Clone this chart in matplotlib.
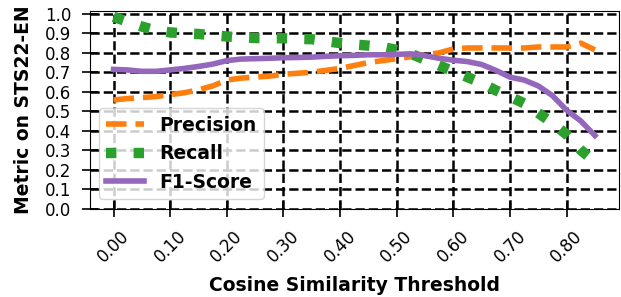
import matplotlib
matplotlib.use("Agg")
import matplotlib.pyplot as plt
import numpy as np

thresholds = [0.0, 0.025, 0.05, 0.075, 0.1, 0.125, 0.15, 0.175, 0.2, 0.225,
              0.25, 0.275, 0.3, 0.325, 0.35, 0.375, 0.4, 0.425, 0.45, 0.475,
              0.5, 0.525, 0.55, 0.575, 0.6, 0.625, 0.65, 0.675, 0.7, 0.725,
              0.75, 0.775, 0.8, 0.825, 0.85]

precision = [0.558, 0.565, 0.57, 0.575, 0.585, 0.595, 0.61, 0.63, 0.66, 0.67,
             0.675, 0.68, 0.69, 0.695, 0.70, 0.71, 0.72, 0.735, 0.75, 0.76,
             0.77, 0.78, 0.79, 0.80, 0.82, 0.825, 0.825, 0.825, 0.825, 0.825,
             0.83, 0.83, 0.83, 0.85, 0.815]

recall = [0.985, 0.96, 0.935, 0.915, 0.905, 0.90, 0.897, 0.89, 0.884, 0.88,
          0.876, 0.875, 0.875, 0.872, 0.87, 0.86, 0.85, 0.843, 0.837, 0.83,
          0.815, 0.795, 0.765, 0.735, 0.705, 0.675, 0.645, 0.607, 0.575, 0.54,
          0.49, 0.44, 0.38, 0.30, 0.24]

f1 = [0.715, 0.712, 0.705, 0.705, 0.712, 0.72, 0.73, 0.742, 0.76, 0.768,
      0.77, 0.772, 0.775, 0.776, 0.778, 0.782, 0.785, 0.787, 0.79, 0.79,
      0.792, 0.795, 0.785, 0.772, 0.762, 0.755, 0.74, 0.71, 0.675, 0.66,
      0.63, 0.58, 0.505, 0.45, 0.375]

xticks = [0.0, 0.1, 0.2, 0.3, 0.4, 0.5, 0.6, 0.7, 0.8]
yticks = [0.0, 0.1, 0.2, 0.3, 0.4, 0.5, 0.6, 0.7, 0.8, 0.9, 1.0]

W, H = 621, 297
fig = plt.figure(figsize=(W / 100, H / 100), dpi=100)
ax = fig.add_axes([89.5 / W, 1 - 208.5 / H, (619 - 89.5) / W, (208.5 - 11) / H])

ax.plot(thresholds, precision, linestyle='--', color='#ff7f0e', linewidth=4, label='Precision')
ax.plot(thresholds, recall, linestyle=':', color='#2ca02c', linewidth=7.5, label='Recall')
ax.plot(thresholds, f1, linestyle='-', color='#9467bd', linewidth=4, label='F1-Score')

ax.set_xlim(-0.0425, 0.8925)
ax.set_ylim(0, 1.015)
ax.set_xticks(xticks)
ax.set_xticklabels([f"{v:.2f}" for v in xticks], rotation=45, fontsize=12)
ax.set_yticks(yticks)
ax.set_yticklabels([f"{v:.1f}" for v in yticks], fontsize=12)
ax.tick_params(direction='inout', length=11, width=1.2)
ax.tick_params(axis='x', pad=8)
ax.tick_params(axis='y', pad=7.5)

ax.grid(True, color='black', linestyle='--', linewidth=1.8)

ax.set_xlabel('Cosine Similarity Threshold', fontsize=13.5, fontweight='bold', labelpad=7)
ax.set_ylabel('Metric on STS22-EN', fontsize=13.5, fontweight='bold', labelpad=9)

leg = ax.legend(loc='lower left', prop={'size': 13.5, 'weight': 'bold'})

fig.savefig('out.png', dpi=100)
